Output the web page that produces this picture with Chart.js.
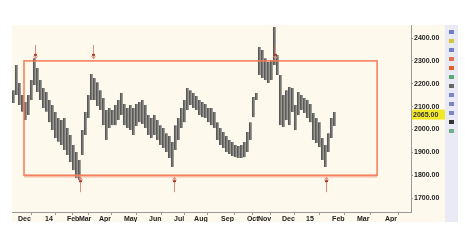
<!DOCTYPE html>
<html>
<head>
<meta charset="utf-8">
<script src="https://cdn.jsdelivr.net/npm/chart.js@4.4.1/dist/chart.umd.min.js"></script>
<style>
html, body { margin: 0; padding: 0; background: #fff; }
#wrap { width: 465px; height: 245px; }
</style>
</head>
<body>
<div id="wrap"><canvas id="grafica" width="465" height="245"></canvas></div>
<script>
// daily range (high / low), one slot per bar
const highs = [2172, 2282, 2203, 2151, 2120, 2151, 2216, 2312, 2269, 2216,
    2181, 2164, 2129, 2107, 2076, 2050, 2041, 2050, 2006, 1976,
    1932, 1901, 1866, 1998, 2076, 2151, 2243, 2225, 2207, 2172,
    2138, 2085, 2094, 2085, 2107, 2129, 2159, 2111, 2094, 2107,
    2094, 2111, 2120, 2129, 2107, 2063, 2050, 2063, 2041, 2019,
    2006, 1984, 1971, 1945, 2019, 2050, 2094, 2129, 2181, 2172,
    2159, 2146, 2129, 2120, 2111, 2094, 2094, 2076, 2032, 2006,
    1989, 1971, 1954, 1945, 1932, 1928, 1932, 1945, 1989, 2032,
    2142, 2159, 2361, 2348, 2312, 2295, 2304, 2448, 2326, 2238,
    2151, 2172, 2186, 2181, 2107, 2164, 2151, 2138, 2129, 2111,
    2072, 2050, 2032, 1963, 1932, 1984, 2050, 2076];
const lows = [2116, 2151, 2107, 2077, 2041, 2063, 2129, 2194, 2164, 2129,
    2094, 2077, 2032, 1998, 1963, 1946, 1932, 1910, 1888, 1858,
    1822, 1787, 1779, 1888, 1976, 2050, 2129, 2129, 2103, 2085,
    2019, 1954, 2006, 2019, 2019, 2041, 2063, 2019, 2006, 1998,
    1976, 2015, 2032, 2024, 2006, 1976, 1963, 1976, 1954, 1932,
    1919, 1901, 1875, 1836, 1910, 1954, 2006, 2032, 2085, 2107,
    2094, 2085, 2063, 2054, 2050, 2032, 2019, 2006, 1954, 1932,
    1919, 1901, 1893, 1884, 1879, 1875, 1875, 1879, 1901, 1954,
    2054, 2129, 2238, 2225, 2216, 2203, 2216, 2282, 2238, 2019,
    2011, 2041, 2019, 2076, 1998, 2063, 2085, 2072, 2050, 2032,
    1954, 1941, 1923, 1866, 1836, 1901, 1963, 2015];

const monthSlots = [1.5, 10.5, 17.8, 21.8, 28.5, 36.8, 45.2, 53.5, 60.2, 69.2,
    77.8, 81.5, 89.5, 97.5, 106.2, 114.5, 123.8];
const monthLabels = ["Dec", "14", "Feb", "Mar", "Apr", "May", "Jun", "Jul", "Aug", "Sep",
    "Oct", "Nov", "Dec", "15", "Feb", "Mar", "Apr"];
const priceTicks = [1700, 1800, 1900, 2000, 2100, 2200, 2300, 2400];
const lastClose = 2065;

// trading range box and the touches marked with arrows
const boxSlots = [3.5, 121.2];
const boxLevels = [1800, 2300];
const topArrowSlots = [7, 26.5, 87];
const bottomArrowSlots = [22, 53.5, 104];

const barData = highs.map((h, i) => ({ x: i, y: [lows[i], h] }));

const decor = {
    id: 'decor',
    beforeDraw(chart) {
        const ctx = chart.ctx;
        const a = chart.chartArea;
        const xs = chart.scales.x, ys = chart.scales.y;
        ctx.save();
        ctx.fillStyle = '#fff';
        ctx.fillRect(0, 0, chart.width, chart.height);
        ctx.fillStyle = '#FDF9EC';
        ctx.fillRect(a.left, a.top, ys.right - a.left, xs.bottom - a.top);
        // tool strip on the far right
        ctx.fillStyle = '#E9EAF4';
        ctx.fillRect(ys.right, a.top, 13, xs.bottom - a.top);
        const icons = ['#6f7fc8', '#d9c53a', '#7080c8', '#e07050', '#e0602a', '#5aa870', '#666',
            '#7a86c8', '#7a86c8', '#7a86c8', '#333', '#6cb088'];
        icons.forEach((c, i) => {
            ctx.fillStyle = c;
            ctx.fillRect(ys.right + 4, a.top + 5 + i * 9, 5, 4);
        });
        ctx.restore();
    },
    afterDatasetsDraw(chart) {
        const ctx = chart.ctx;
        const xs = chart.scales.x, ys = chart.scales.y;
        ctx.save();
        // box
        const x0 = xs.getPixelForValue(boxSlots[0]), x1 = xs.getPixelForValue(boxSlots[1]);
        const yT = ys.getPixelForValue(boxLevels[1]), yB = ys.getPixelForValue(boxLevels[0]);
        ctx.strokeStyle = '#F47A58';
        ctx.lineWidth = 1.5;
        ctx.strokeRect(x0, yT, x1 - x0, yB - yT);
        ctx.strokeStyle = 'rgba(244, 150, 120, 0.6)';
        ctx.beginPath();
        ctx.moveTo(x0, yB + 1.5); ctx.lineTo(x1, yB + 1.5);
        ctx.stroke();
        // arrows
        ctx.strokeStyle = '#E2907E';
        ctx.lineWidth = 1;
        topArrowSlots.forEach(s => {
            const px = Math.round(xs.getPixelForValue(s)) + 0.5;
            ctx.beginPath();
            ctx.moveTo(px, yT - 16); ctx.lineTo(px, yT - 2);
            ctx.moveTo(px - 2, yT - 5); ctx.lineTo(px, yT - 2); ctx.lineTo(px + 2, yT - 5);
            ctx.stroke();
            ctx.fillStyle = '#A8402E';
            ctx.fillRect(px - 1.5, yT - 7, 3, 2);
        });
        bottomArrowSlots.forEach(s => {
            const px = Math.round(xs.getPixelForValue(s)) + 0.5;
            ctx.beginPath();
            ctx.moveTo(px, yB + 2); ctx.lineTo(px, yB + 17);
            ctx.moveTo(px - 2, yB + 5); ctx.lineTo(px, yB + 2); ctx.lineTo(px + 2, yB + 5);
            ctx.stroke();
            ctx.fillStyle = '#A8402E';
            ctx.fillRect(px - 1.5, yB + 5, 3, 2);
        });
        // last price tag
        const py = ys.getPixelForValue(lastClose);
        ctx.fillStyle = '#F2E82A';
        ctx.fillRect(ys.left + 1, py - 5, 33, 10);
        ctx.fillStyle = '#333';
        ctx.font = 'bold 7px "Liberation Sans", Arial, sans-serif';
        ctx.textBaseline = 'middle';
        ctx.textAlign = 'left';
        ctx.fillText(lastClose.toFixed(2), ys.left + 2, py);
        ctx.restore();
    }
};

const chart = new Chart(document.getElementById('grafica').getContext('2d'), {
    type: 'bar',
    data: {
        datasets: [{
            label: 'range',
            data: barData,
            backgroundColor: 'rgba(105, 105, 105, 0.8)',
            borderColor: 'rgba(60, 60, 60, 0.85)',
            borderWidth: { left: 1, right: 0, top: 0, bottom: 0 },
            barThickness: 2.6
        }]
    },
    options: {
        responsive: false,
        animation: false,
        devicePixelRatio: 1,
        layout: { padding: { left: 12, top: 25, right: 20, bottom: 23 } },
        plugins: { legend: { display: false }, tooltip: { enabled: false } },
        scales: {
            x: {
                type: 'linear',
                min: -0.5,
                max: 132.5,
                offset: false,
                grid: { drawOnChartArea: false, tickLength: 3, color: '#999' },
                border: { color: '#999' },
                afterBuildTicks: axis => { axis.ticks = monthSlots.map(v => ({ value: v })); },
                afterFit: axis => { axis.height = 10; },
                ticks: {
                    autoSkip: false,
                    maxRotation: 0,
                    align: 'start',
                    padding: 0,
                    color: '#222',
                    font: { size: 7, family: '"Liberation Sans", Arial, sans-serif', weight: 'bold' },
                    callback: (v, i) => monthLabels[i]
                }
            },
            y: {
                position: 'right',
                min: 1639,
                max: 2457,
                grid: { drawOnChartArea: false, tickLength: 2, color: '#999' },
                border: { color: '#999' },
                afterBuildTicks: axis => { axis.ticks = priceTicks.map(v => ({ value: v })); },
                afterFit: axis => { axis.width = 34; },
                ticks: {
                    padding: 1,
                    color: '#222',
                    font: { size: 7, family: '"Liberation Sans", Arial, sans-serif', weight: 'bold' },
                    callback: v => v.toFixed(2)
                }
            }
        }
    },
    plugins: [decor]
});
</script>
</body>
</html>
